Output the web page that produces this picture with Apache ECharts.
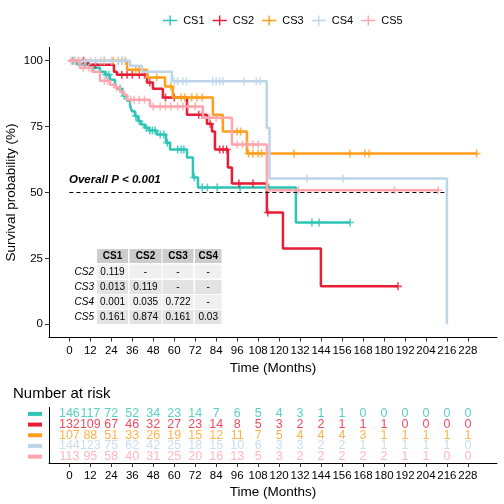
<!DOCTYPE html>
<html><head><meta charset="utf-8">
<script src="https://cdn.jsdelivr.net/npm/echarts@6/dist/echarts.min.js"></script>
<style>html,body{margin:0;padding:0;background:#fff}#c{width:504px;height:504px}</style>
</head><body><div id="c"></div>
<script>
// ---------------- data ----------------
const groups = ['CS1', 'CS2', 'CS3', 'CS4', 'CS5'];
const colors = ['#2EC4B6', '#E71D36', '#FF9F1C', '#BDD5EA', '#FFA5AB'];

// step times (months) and survival (%) after each step
const cs1Time = [0, 4.3, 11.8, 17.5, 20.4, 23.2, 26.1, 27.2, 30.1, 31.2, 33, 34.7, 35.8, 37.5, 39.2, 41, 43.2, 45.5, 50.1, 55.3, 57.6, 67.3, 70.7, 73.6, 129.6];
const cs1Surv = [100, 98.6, 97.3, 95.8, 94.7, 92.8, 91.0, 89.4, 88.3, 86.6, 84.8, 83.0, 80.8, 79.0, 77.1, 75.8, 74.6, 73.5, 72.0, 68.9, 66.3, 63.3, 55.7, 51.9, 38.6];
const cs1End = 160.6;
const cs1Censor = [2, 6, 9, 14, 21, 22.5, 29, 31.5, 38, 40, 44, 46, 47.5, 49, 52, 54, 56, 62, 64, 65.5, 71.5, 76, 79, 84.6, 97.7, 114, 138.8, 142.9, 160.6];

const cs2Time = [0, 10.6, 25.5, 27.2, 44.4, 47.8, 53.5, 67.3, 78.7, 81.6, 83.3, 90.7, 93, 113, 122.2, 143.9];
const cs2Surv = [100, 98.5, 95.8, 94.7, 91.7, 89.4, 86.0, 79.5, 76.1, 73.1, 66.3, 59.5, 53.4, 42.4, 28.8, 14.4];
const cs2End = 188;
const cs2Censor = [8, 15, 30, 33, 36, 40, 43, 46, 55, 60, 74, 76, 80.5, 86, 88, 90, 97, 105, 113.5, 188];

const cs3Time = [0, 33, 44.4, 54.7, 59.2, 82.1, 87.8, 101.6];
const cs3Surv = [100, 96.6, 93.6, 90.2, 86.0, 79.5, 73.1, 64.8];
const cs3End = 233;
const cs3Censor = [20, 25, 28, 30, 32, 38, 40, 50, 58, 64, 66, 70, 73, 76, 96, 98, 102.5, 105, 108, 110, 128.5, 160.5, 169, 171.5, 233];

const cs4Time = [0, 34.7, 41.5, 58.7, 112.9, 114.5, 216];
const cs4Surv = [100, 98.1, 95.8, 92.2, 74.6, 55.3, 0];
const cs4End = 216;
const cs4Censor = [3, 6, 9, 12, 15, 18, 20, 24, 28, 30, 32, 60, 62, 65, 67, 82, 84, 86, 88, 100, 107, 109, 136, 156.5];

const cs5Time = [0, 6, 13, 17.5, 23.2, 26.1, 29, 31.2, 33, 46.1, 76.4, 93, 113];
const cs5Surv = [100, 97.3, 95.8, 92.4, 90.9, 89.8, 88.3, 87.1, 85.2, 82.6, 78.4, 68.2, 50.9];
const cs5End = 211;
const cs5Censor = [1, 3, 5, 8, 11, 20, 22, 27, 35, 37, 40, 43, 48, 52, 55, 58, 62, 65, 68, 72, 80, 84, 96, 99, 102, 105, 108, 131, 186, 211];

const xTicks = [0, 12, 24, 36, 48, 60, 72, 84, 96, 108, 120, 132, 144, 156, 168, 180, 192, 204, 216, 228];
const yTicks = [0, 25, 50, 75, 100];

const riskCS1 = [146, 117, 72, 52, 34, 23, 14, 7, 6, 5, 4, 3, 1, 1, 0, 0, 0, 0, 0, 0];
const riskCS2 = [132, 109, 67, 46, 32, 27, 23, 14, 8, 5, 3, 2, 2, 1, 1, 1, 0, 0, 0, 0];
const riskCS3 = [107, 88, 51, 33, 26, 19, 15, 12, 11, 7, 5, 4, 4, 4, 3, 1, 1, 1, 1, 1];
const riskCS4 = [144, 123, 75, 62, 42, 25, 18, 15, 10, 6, 3, 3, 2, 2, 1, 1, 1, 1, 1, 0];
const riskCS5 = [113, 95, 58, 40, 31, 25, 20, 16, 13, 5, 3, 2, 2, 2, 2, 2, 1, 1, 0, 0];

const medianY = 50;
const medianEnd = 216;
const pText = 'Overall P < 0.001';

const pColNames = ['CS1', 'CS2', 'CS3', 'CS4'];
const pRowNames = ['CS2', 'CS3', 'CS4', 'CS5'];
const pRowCS2 = ['0.119', '-', '-', '-'];
const pRowCS3 = ['0.013', '0.119', '-', '-'];
const pRowCS4 = ['0.001', '0.035', '0.722', '-'];
const pRowCS5 = ['0.161', '0.874', '0.161', '0.03'];

// ---------------- build ----------------
const FONT = 'Liberation Sans, Arial, sans-serif';
const times = [cs1Time, cs2Time, cs3Time, cs4Time, cs5Time];
const survs = [cs1Surv, cs2Surv, cs3Surv, cs4Surv, cs5Surv];
const ends = [cs1End, cs2End, cs3End, cs4End, cs5End];
const censors = [cs1Censor, cs2Censor, cs3Censor, cs4Censor, cs5Censor];
const risks = [riskCS1, riskCS2, riskCS3, riskCS4, riskCS5];
const pRows = [pRowCS2, pRowCS3, pRowCS4, pRowCS5];

function survAt(gi, t) {
  let s = survs[gi][0];
  for (let i = 0; i < times[gi].length; i++) if (times[gi][i] <= t) s = survs[gi][i];
  return s;
}

const plusPath = 'path://M4,0H6V4H10V6H6V10H4V6H0V4H4Z';
const legendIcon = 'path://M0,6H20V8.2H0Z M9,0H11V14H9Z';

const series = [];
groups.forEach((g, gi) => {
  const d = times[gi].map((t, i) => [t, survs[gi][i]]);
  d.push([ends[gi], survs[gi][survs[gi].length - 1]]);
  series.push({
    name: g, type: 'line', step: 'end', data: d, showSymbol: false, symbol: 'none',
    xAxisIndex: 0, yAxisIndex: 0, color: colors[gi],
    lineStyle: { width: 2.5, color: colors[gi] }, z: 2 + gi, animation: false
  });
  series.push({
    name: g, type: 'scatter', data: censors[gi].map(t => [t, survAt(gi, t)]),
    xAxisIndex: 0, yAxisIndex: 0, symbol: plusPath, symbolSize: 8,
    itemStyle: { color: colors[gi] }, z: 2 + gi, animation: false, silent: true
  });
  series.push({
    name: g + ' risk', type: 'scatter', xAxisIndex: 1, yAxisIndex: 1,
    data: xTicks.map((t, i) => [t, gi + 1, risks[gi][i]]),
    symbolSize: 1, itemStyle: { color: 'rgba(0,0,0,0)' }, animation: false, silent: true,
    label: { show: true, position: 'inside', formatter: p => String(p.value[2]),
      color: colors[gi], fontSize: 12.5, fontFamily: FONT }
  });
});
series[0].markLine = {
  silent: true, symbol: 'none', animation: false,
  lineStyle: { color: '#000', type: [4, 3], width: 1 }, label: { show: false },
  data: [[{ coord: [0, medianY] }, { coord: [medianEnd, medianY] }]]
};

// p-value table graphic
const colLeft = [97, 129.5, 162.5, 195];
const colW = [31, 32, 31, 26.5];
const rowTop = [249, 264.5, 280, 295, 310];
const rowH = 14;
const graphics = [];
pColNames.forEach((c, ci) => {
  graphics.push({ type: 'rect', shape: { x: colLeft[ci], y: rowTop[0], width: colW[ci], height: rowH }, style: { fill: '#cccccc' } });
  graphics.push({ type: 'text', x: colLeft[ci] + colW[ci] / 2, y: rowTop[0] + rowH / 2 + 0.5,
    style: { text: c, fill: '#000', font: 'bold 10px ' + FONT, align: 'center', verticalAlign: 'middle' } });
});
pRowNames.forEach((r, ri) => {
  const y = rowTop[ri + 1];
  graphics.push({ type: 'text', x: 94, y: y + rowH / 2 + 0.5,
    style: { text: r, fill: '#000', font: 'italic 10px ' + FONT, align: 'right', verticalAlign: 'middle' } });
  pRows[ri].forEach((v, ci) => {
    graphics.push({ type: 'rect', shape: { x: colLeft[ci], y: y, width: colW[ci], height: rowH }, style: { fill: ri % 2 === 0 ? '#f0f0f0' : '#e3e3e3' } });
    graphics.push({ type: 'text', x: colLeft[ci] + colW[ci] / 2, y: y + rowH / 2 + 0.5,
      style: { text: v, fill: '#000', font: '10px ' + FONT, align: 'center', verticalAlign: 'middle' } });
  });
});
graphics.push({ type: 'text', x: 69, y: 180,
  style: { text: pText, fill: '#000', font: 'italic bold 11.5px ' + FONT, align: 'left', verticalAlign: 'middle' } });

const rich = {};
groups.forEach((g, gi) => { rich['s' + (gi + 1)] = { backgroundColor: colors[gi], width: 14, height: 4, fontSize: 1 }; });

const axisLineStyle = { onZero: false, lineStyle: { color: '#000', width: 1 } };

const option = {
  animation: false,
  textStyle: { fontFamily: FONT },
  title: { text: 'Number at risk', left: 8, top: 381, textStyle: { fontSize: 15, fontWeight: 'normal', color: '#000', fontFamily: FONT } },
  legend: {
    top: 10, left: 158, itemWidth: 16, itemHeight: 10, itemGap: 8,
    textStyle: { fontSize: 11, color: '#000', fontFamily: FONT },
    data: groups.map((g, gi) => ({ name: g, icon: legendIcon, itemStyle: { color: colors[gi] } }))
  },
  grid: [
    { left: 49, top: 47.5, width: 448, height: 290, containLabel: false, outerBoundsMode: 'none' },
    { left: 49, top: 407.5, width: 448, height: 55.5, containLabel: false, outerBoundsMode: 'none' }
  ],
  xAxis: [
    {
      type: 'value', gridIndex: 0, min: -11.65, max: 244.65,
      axisLine: axisLineStyle, splitLine: { show: false },
      name: 'Time (Months)', nameLocation: 'middle', nameGap: 22,
      nameTextStyle: { fontSize: 13.5, color: '#000', fontFamily: FONT },
      axisTick: { length: 4, lineStyle: { color: '#333' }, customValues: xTicks },
      axisLabel: { customValues: xTicks, fontSize: 11.5, color: '#000', margin: 7, fontFamily: FONT }
    },
    {
      type: 'value', gridIndex: 1, min: -11.65, max: 244.65,
      axisLine: axisLineStyle, splitLine: { show: false },
      name: 'Time (Months)', nameLocation: 'middle', nameGap: 22,
      nameTextStyle: { fontSize: 13.5, color: '#000', fontFamily: FONT },
      axisTick: { length: 4, lineStyle: { color: '#333' }, customValues: xTicks },
      axisLabel: { customValues: xTicks, fontSize: 11.5, color: '#000', margin: 7, fontFamily: FONT }
    }
  ],
  yAxis: [
    {
      type: 'value', gridIndex: 0, min: -5, max: 105,
      axisLine: axisLineStyle, splitLine: { show: false },
      name: 'Survival probability (%)', nameLocation: 'middle', nameGap: 31, nameMoveOverlap: false,
      nameTextStyle: { fontSize: 13.5, color: '#000', fontFamily: FONT },
      axisTick: { length: 4, lineStyle: { color: '#333' }, customValues: yTicks },
      axisLabel: { customValues: yTicks, fontSize: 11.5, color: '#000', margin: 6, fontFamily: FONT }
    },
    {
      type: 'value', gridIndex: 1, min: 0.4, max: 5.6, inverse: true,
      axisLine: axisLineStyle, splitLine: { show: false },
      axisTick: { show: false },
      axisLabel: { customValues: [1, 2, 3, 4, 5], margin: 7,
        formatter: v => '{s' + Math.round(v) + '| }', rich: rich }
    }
  ],
  graphic: graphics,
  series: series
};

const chart = echarts.init(document.getElementById('c'), null, { renderer: 'canvas' });
chart.setOption(option);
</script>
</body></html>
